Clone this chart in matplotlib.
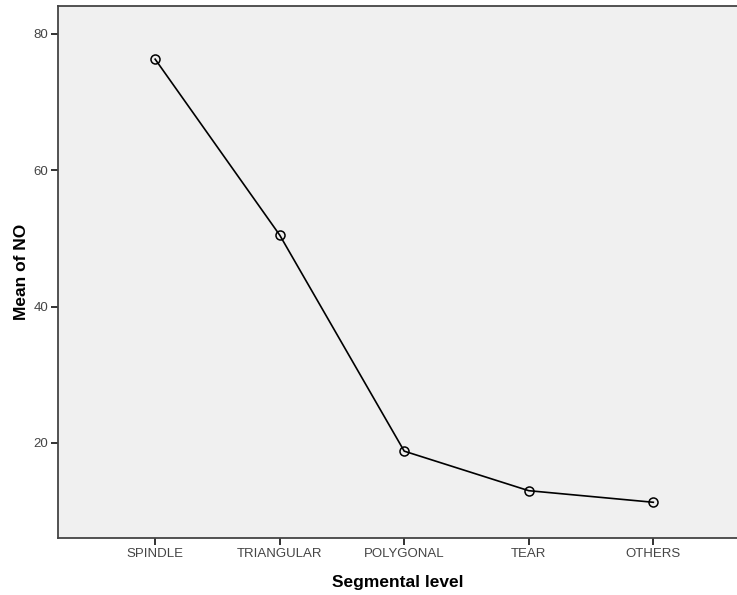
import matplotlib.pyplot as plt

plt.rcParams['font.family'] = ['Liberation Sans', 'DejaVu Sans']

# shape categories and mean NO
shapes = ['SPINDLE', 'TRIANGULAR', 'POLYGONAL', 'TEAR', 'OTHERS']
mean_no = [76.3, 50.5, 18.8, 13.0, 11.3]
yticks = [20, 40, 60, 80]

fig = plt.figure(figsize=(7.37, 5.95), dpi=100)
ax = fig.add_axes([58/737, 57/595, 680/737, 532/595])
ax.set_facecolor('#f0f0f0')

x = list(range(len(shapes)))
ax.plot(x, mean_no, color='black', lw=1.2, marker='o', markersize=6.5,
        markerfacecolor='none', markeredgecolor='black', markeredgewidth=1.1)

ax.set_xlim(-0.78, 4.68)
ax.set_ylim(6.06, 84.1)
ax.set_xticks(x)
ax.set_xticklabels(shapes)
ax.set_yticks(yticks)

for s in ax.spines.values():
    s.set_color('#444444')
    s.set_linewidth(1.3)
ax.spines['right'].set_visible(False)

ax.tick_params(axis='both', direction='out', length=5, width=1.3,
               color='#222222', labelsize=9.5, labelcolor='#444444', pad=2)

ax.set_xlabel('Segmental level', fontsize=12.5, fontweight='bold', labelpad=11)
ax.set_ylabel('Mean of NO', fontsize=12.5, fontweight='bold', labelpad=3)

fig.savefig('out.png', dpi=100)
